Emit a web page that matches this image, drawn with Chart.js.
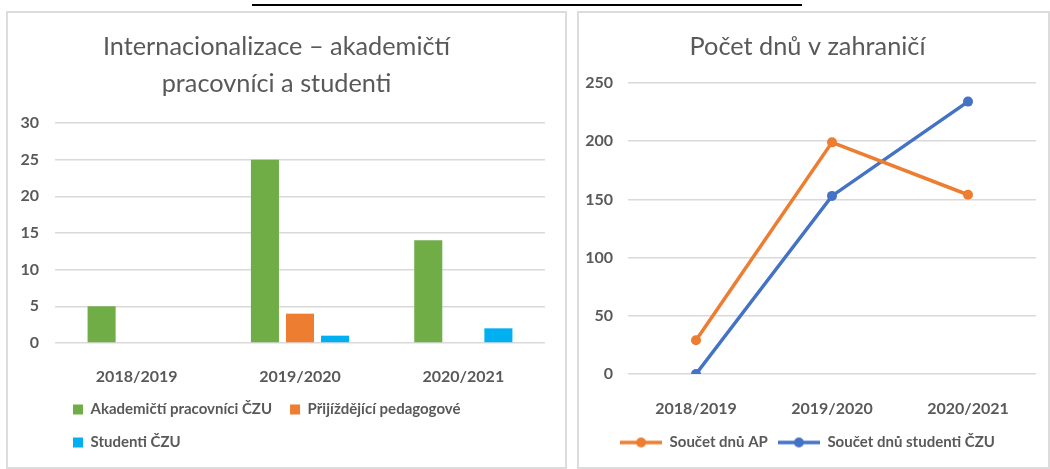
<!DOCTYPE html>
<html>
<head>
<meta charset="utf-8">
<script src="https://cdn.jsdelivr.net/npm/chart.js@4.4.0/dist/chart.umd.min.js"></script>
<style>
  body { margin: 0; background: #fff; width: 1050px; height: 469px; position: relative; overflow: hidden; }
  .rule { position: absolute; left: 252px; top: 4px; width: 550px; height: 2px; background: #000; }
  .panel { position: absolute; top: 11px; height: 454px; border: 2px solid #dcdcdc; }
  #left { left: 6px; width: 557px; }
  #right { left: 577px; width: 469px; }
  canvas { display: block; }
</style>
</head>
<body>
<div class="rule"></div>
<div class="panel" id="left"><canvas id="barChart" width="557" height="454"></canvas></div>
<div class="panel" id="right"><canvas id="lineChart" width="469" height="454"></canvas></div>
<script>
// data
const years = ['2018/2019', '2019/2020', '2020/2021'];
const academics = [5, 25, 14];
const incomingTeachers = [0, 4, 0];
const students = [0, 1, 2];
const daysAP = [29, 199, 154];
const daysStudents = [0, 153, 234];

const grey = '#595959';
const gridGrey = '#d9d9d9';
const font = 'Lato';
const tickFont = { size: 16, weight: 'bold' };
const legendFont = { size: 15, weight: 'bold' };

Chart.defaults.font.family = font;
Chart.defaults.color = grey;

// left chart - bars
new Chart(document.getElementById('barChart'), {
    type: 'bar',
    data: {
        labels: years,
        datasets: [
            { label: 'Akademičtí pracovníci ČZU', data: academics, backgroundColor: '#70ad47' },
            { label: 'Přijíždějící pedagogové', data: incomingTeachers, backgroundColor: '#ed7d31' },
            { label: 'Studenti ČZU', data: students, backgroundColor: '#00b0f0' }
        ]
    },
    options: {
        responsive: false,
        animation: false,
        categoryPercentage: 0.644,
        barPercentage: 0.8,
        layout: { padding: { left: 0, right: 20, top: 0, bottom: 7 } },
        plugins: {
            title: {
                display: true,
                text: ['Internacionalizace – akademičtí', 'pracovníci a studenti'],
                color: grey,
                font: { family: font, size: 25.3, weight: 'normal', lineHeight: 37 / 25.3 },
                padding: { top: 15.5, bottom: 20.5 }
            },
            legend: {
                position: 'bottom',
                align: 'start',
                fullSize: false,
                labels: { boxWidth: 10, boxHeight: 10, padding: 18, color: grey, font: legendFont }
            },
            tooltip: { enabled: false }
        },
        scales: {
            x: {
                grid: { display: false },
                border: { display: false },
                ticks: { padding: 16, color: grey, font: tickFont },
                afterFit: function(scale) { scale.height = 41; }
            },
            y: {
                min: 0,
                max: 30,
                grid: { color: gridGrey, lineWidth: 1.5, drawTicks: false },
                border: { display: false },
                ticks: { stepSize: 5, padding: 16, color: grey, font: tickFont },
                afterFit: function(scale) { scale.width = 47; }
            }
        }
    }
});

// legend marker: line with a dot, like the excel one
function lineMarker(colour) {
    const c = document.createElement('canvas');
    c.width = 42;
    c.height = 12;
    const g = c.getContext('2d');
    g.strokeStyle = colour;
    g.lineWidth = 3.5;
    g.beginPath();
    g.moveTo(0, 6);
    g.lineTo(42, 6);
    g.stroke();
    g.fillStyle = colour;
    g.beginPath();
    g.arc(21, 6, 5, 0, Math.PI * 2);
    g.fill();
    return c;
}

// right chart - lines
new Chart(document.getElementById('lineChart'), {
    type: 'line',
    data: {
        labels: years,
        datasets: [
            { label: 'Součet dnů AP', data: daysAP, borderColor: '#ed7d31', backgroundColor: '#ed7d31' },
            { label: 'Součet dnů studenti ČZU', data: daysStudents, borderColor: '#4472c4', backgroundColor: '#4472c4' }
        ]
    },
    options: {
        responsive: false,
        animation: false,
        elements: {
            line: { borderWidth: 3.5, tension: 0 },
            point: { radius: 5, borderWidth: 0 }
        },
        layout: { padding: { left: 0, right: 12, top: 0, bottom: 7 } },
        plugins: {
            title: {
                display: true,
                text: 'Počet dnů v zahraničí',
                color: grey,
                font: { family: font, size: 25.3, weight: 'normal', lineHeight: 37 / 25.3 },
                padding: { top: 15.5, bottom: 17.5 }
            },
            legend: {
                position: 'bottom',
                labels: {
                    usePointStyle: true,
                    pointStyleWidth: 42,
                    padding: 10,
                    color: grey,
                    font: legendFont,
                    generateLabels: function(chart) {
                        const items = Chart.defaults.plugins.legend.labels.generateLabels(chart);
                        items.forEach(function(item) {
                            item.pointStyle = lineMarker(chart.data.datasets[item.datasetIndex].borderColor);
                        });
                        return items;
                    }
                }
            },
            tooltip: { enabled: false }
        },
        scales: {
            x: {
                offset: true,
                grid: { display: false },
                border: { display: false },
                ticks: { padding: 17, color: grey, font: tickFont },
                afterFit: function(scale) { scale.height = 51; }
            },
            y: {
                min: 0,
                max: 250,
                grid: { color: gridGrey, lineWidth: 1.5, drawTicks: false },
                border: { display: false },
                ticks: { stepSize: 50, padding: 15, color: grey, font: tickFont },
                afterFit: function(scale) { scale.width = 49; }
            }
        }
    }
});
</script>
</body>
</html>
